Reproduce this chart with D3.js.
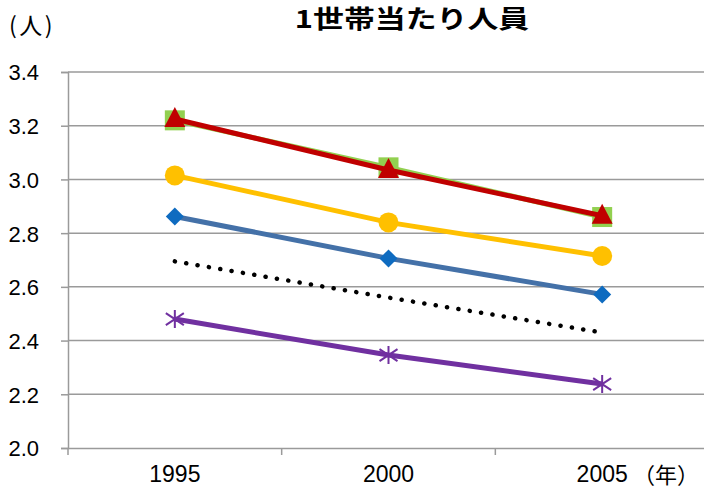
<!DOCTYPE html>
<html>
<head>
<meta charset="utf-8">
<script src="https://cdn.jsdelivr.net/npm/d3@7"></script>
<style>
  html, body { margin: 0; padding: 0; background: #fff; }
  svg { display: block; }
</style>
</head>
<body>
<svg id="chart" width="704" height="488"></svg>
<script>
// Census years on the category axis
const years = ["1995", "2000", "2005"];
const yTicks = [2.0, 2.2, 2.4, 2.6, 2.8, 3.0, 3.2, 3.4];

// Persons per household for each series
const greenSquare = [3.22, 3.045, 2.86];
const redTriangle = [3.225, 3.035, 2.865];
const yellowCircle = [3.015, 2.84, 2.715];
const blueDiamond = [2.862, 2.706, 2.572];
const blackDotted = [2.695, 2.56, 2.43];
const purpleStar = [2.48, 2.346, 2.238];

const series = [
  { values: blackDotted, color: "#000000", marker: "none", dotted: true },
  { values: purpleStar, color: "#7030A0", marker: "star" },
  { values: blueDiamond, color: "#4471A8", markerColor: "#0E6BC0", marker: "diamond" },
  { values: yellowCircle, color: "#FFC000", marker: "circle" },
  { values: greenSquare, color: "#92D050", marker: "square" },
  { values: redTriangle, color: "#C00000", marker: "triangle" }
];

const svg = d3.select("#chart");

const x = d3.scaleBand().domain(years).range([68, 709]).padding(0);
const y = d3.scaleLinear().domain([2.0, 3.4]).range([448, 72]);
const cx = d => x(d) + x.bandwidth() / 2;

// Horizontal gridlines
svg.append("g")
  .selectAll("line")
  .data(yTicks.slice(1))
  .join("line")
  .attr("x1", 68).attr("x2", 704)
  .attr("y1", d => y(d)).attr("y2", d => y(d))
  .attr("stroke", "#9a9a9a").attr("stroke-width", 1.5);

// Value axis
const yAxis = svg.append("g")
  .attr("transform", "translate(68,0)")
  .call(d3.axisLeft(y).tickValues(yTicks).tickFormat(d3.format(".1f")).tickSize(7));
yAxis.select(".domain").attr("stroke", "#9a9a9a").attr("stroke-width", 1.5);
yAxis.selectAll(".tick line").attr("stroke", "#9a9a9a").attr("stroke-width", 1.5);
yAxis.selectAll("text")
  .attr("font-family", "'Liberation Sans', Arial, sans-serif")
  .attr("font-size", 22).attr("fill", "#000")
  .attr("x", -29).attr("dy", "0.36em").attr("text-anchor", "end");

// Category axis
const xAxis = svg.append("g")
  .attr("transform", "translate(0,448)")
  .call(d3.axisBottom(x).tickSize(0).tickPadding(0));
xAxis.select(".domain").attr("stroke", "#9a9a9a").attr("stroke-width", 1.5);
xAxis.selectAll("text")
  .attr("font-family", "'Liberation Sans Narrow', 'Liberation Sans', Arial, sans-serif")
  .attr("font-size", 23).attr("fill", "#000")
  .attr("y", 34).attr("dy", 0);
// Category boundary ticks
svg.append("g")
  .selectAll("line")
  .data(years)
  .join("line")
  .attr("x1", d => x(d)).attr("x2", d => x(d))
  .attr("y1", 448).attr("y2", 455)
  .attr("stroke", "#9a9a9a").attr("stroke-width", 1.5);

// Lines and markers
const line = d3.line().x((d, i) => cx(years[i])).y(d => y(d));

series.forEach(s => {
  const g = svg.append("g");
  g.append("path")
    .datum(s.values)
    .attr("d", line)
    .attr("fill", "none")
    .attr("stroke", s.color)
    .attr("stroke-width", s.dotted ? 4.5 : 5)
    .attr("stroke-linecap", s.dotted ? "round" : "butt")
    .attr("stroke-dasharray", s.dotted ? "0.1 11.4" : null);

  const mc = s.markerColor || s.color;
  const pts = g.selectAll(".m").data(s.values).join("g")
    .attr("transform", (d, i) => `translate(${cx(years[i])},${y(d)})`);

  if (s.marker === "square") {
    pts.append("rect").attr("x", -10).attr("y", -10).attr("width", 20).attr("height", 20).attr("fill", mc);
  } else if (s.marker === "triangle") {
    pts.append("path").attr("d", "M0,-12 L10.5,8 L-10.5,8 Z").attr("fill", mc);
  } else if (s.marker === "circle") {
    pts.append("circle").attr("r", 10).attr("fill", mc);
  } else if (s.marker === "diamond") {
    pts.append("path").attr("d", "M0,-9 L9,0 L0,9 L-9,0 Z").attr("fill", mc);
  } else if (s.marker === "star") {
    pts.append("path")
      .attr("d", "M0,-9 L0,9 M-9,-6 L9,6 M-9,6 L9,-6")
      .attr("stroke", mc).attr("stroke-width", 2).attr("fill", "none");
  }
});

// Title and unit labels
svg.append("text")
  .attr("transform", "translate(412,28) scale(1.26,1)")
  .attr("text-anchor", "middle")
  .attr("font-family", "'Noto Sans CJK JP', sans-serif")
  .attr("font-weight", "bold").attr("font-size", 24.5)
  .text("1世帯当たり人員");

svg.append("text")
  .attr("x", 9).attr("y", 34)
  .attr("font-family", "'Noto Sans CJK JP', sans-serif")
  .attr("font-size", 23)
  .attr("letter-spacing", 2.5)
  .text("(人)");

svg.append("text")
  .attr("x", 633).attr("y", 483)
  .attr("font-family", "'Noto Sans CJK JP', sans-serif")
  .attr("font-size", 22)
  .text("（年）");
</script>
</body>
</html>
